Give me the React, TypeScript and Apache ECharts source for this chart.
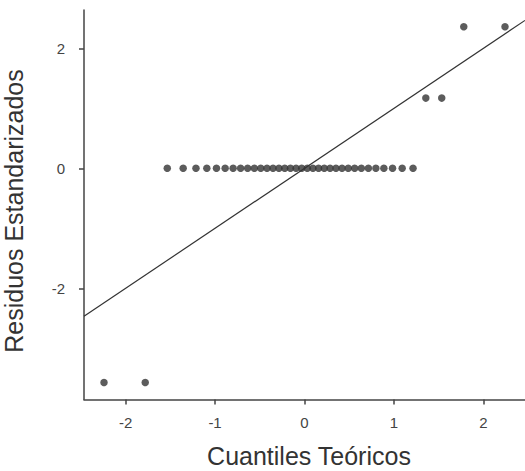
import React, { useEffect, useRef } from "react";
import * as echarts from "echarts";

// Theoretical normal quantiles (x) and standardized residuals (y)
const theoreticalQuantiles = [
  -2.2414, -1.7805, -1.5341, -1.3563, -1.2133, -1.092, -0.9842, -0.8871, -0.7979, -0.7144,
  -0.6356, -0.5607, -0.4888, -0.4193, -0.3518, -0.2858, -0.2211, -0.1573, -0.0941, -0.0313,
  0.0313, 0.0941, 0.1573, 0.2211, 0.2858, 0.3518, 0.4193, 0.4888, 0.5607, 0.6356,
  0.7144, 0.7979, 0.8871, 0.9842, 1.092, 1.2133, 1.3563, 1.5341, 1.7805, 2.2414,
];
const standardizedResiduals = [
  -3.57, -3.57, 0, 0, 0, 0, 0, 0, 0, 0,
  0, 0, 0, 0, 0, 0, 0, 0, 0, 0,
  0, 0, 0, 0, 0, 0, 0, 0, 0, 0,
  0, 0, 0, 0, 0, 0, 1.17, 1.17, 2.36, 2.36,
];
const referenceLineX = [-2.465, 2.465];
const referenceLineY = [-2.465, 2.465];
const xTickValues = [-2, -1, 0, 1, 2];
const yTickValues = [-2, 0, 2];
const xRange = [-2.465, 2.465];
const yRange = [-3.853, 2.638];
const xTitle = "Cuantiles Teóricos";
const yTitle = "Residuos Estandarizados";

const FONT = "'Liberation Sans', Arial, sans-serif";
const INK = "#333";

export default function App() {
  const ref = useRef<HTMLDivElement>(null);
  useEffect(() => {
    document.body.style.margin = "0";
    if (!ref.current) return;
    const chart = echarts.init(ref.current, undefined, { renderer: "svg" });
    const points = theoreticalQuantiles.map((x, i) => [x, standardizedResiduals[i]]);
    const linePts = referenceLineX.map((x, i) => [x, referenceLineY[i]]);
    const axisCommon = {
      axisLine: { show: true, onZero: false, lineStyle: { color: "#444", width: 1.5 } },
      axisTick: { show: true, length: 5, lineStyle: { color: "#444", width: 1.5 } },
      splitLine: { show: false },
    };
    chart.setOption({
      animation: false,
      backgroundColor: "#fff",
      grid: { left: 84, top: 10, width: 447, height: 389.5 },
      xAxis: {
        type: "value",
        min: xRange[0],
        max: xRange[1],
        ...axisCommon,
        axisTick: { ...axisCommon.axisTick, customValues: xTickValues },
        axisLabel: {
          customValues: xTickValues,
          margin: 15,
          fontSize: 15,
          color: "#444",
          fontFamily: FONT,
        },
      },
      yAxis: {
        type: "value",
        min: yRange[0],
        max: yRange[1],
        ...axisCommon,
        axisTick: { ...axisCommon.axisTick, customValues: yTickValues },
        axisLabel: {
          customValues: yTickValues,
          margin: 19,
          fontSize: 15,
          color: "#444",
          fontFamily: FONT,
        },
      },
      graphic: [
        {
          type: "text",
          x: 309,
          y: 456,
          style: {
            text: xTitle,
            fontSize: 25,
            fontFamily: FONT,
            fill: INK,
            align: "center",
            verticalAlign: "middle",
            textAlign: "center",
            textVerticalAlign: "middle",
          },
        },
        {
          type: "text",
          x: 14,
          y: 211,
          rotation: Math.PI / 2,
          style: {
            text: yTitle,
            fontSize: 25,
            fontFamily: FONT,
            fill: INK,
            align: "center",
            verticalAlign: "middle",
            textAlign: "center",
            textVerticalAlign: "middle",
          },
        },
      ],
      series: [
        {
          type: "line",
          data: linePts,
          symbol: "none",
          lineStyle: { color: INK, width: 1.2 },
          clip: true,
          z: 2,
        },
        {
          type: "scatter",
          data: points,
          symbolSize: 7.5,
          itemStyle: { color: INK },
          z: 3,
        },
      ],
    });
    return () => chart.dispose();
  }, []);
  return <div ref={ref} style={{ width: 525, height: 471 }} />;
}
